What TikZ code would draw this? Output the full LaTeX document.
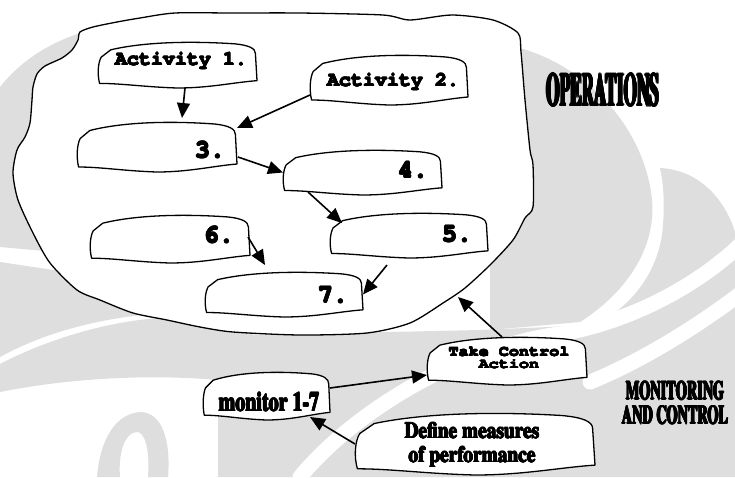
\documentclass[tikz,border=0pt]{standalone}
\usepackage{fontspec}
\usetikzlibrary{arrows.meta,calc}
% typewriter face for the boxes, bold roman for the free labels
\IfFontExistsTF{texgyrecursor-bold.otf}
  {\newfontfamily\boxfont{texgyrecursor-bold.otf}}
  {\newfontfamily\boxfont{lmmonolt10-bold.otf}}
\IfFontExistsTF{texgyretermes-bold.otf}
  {\newfontfamily\condfont{texgyretermes-bold.otf}}
  {\newfontfamily\condfont{lmroman10-bold.otf}}
\definecolor{wmark}{gray}{0.87}
% extra weight: the text is set over copies of itself shifted by #1
\newcommand\heavy[2]{{\setbox0=\hbox{#2}\dimen0=#1\relax\dimen2=0.7\dimen0
  \rlap{\kern\dimen0\copy0}\rlap{\kern-\dimen0\copy0}%
  \rlap{\raise\dimen0\copy0}\rlap{\lower\dimen0\copy0}%
  \rlap{\kern\dimen2\raise\dimen2\copy0}\rlap{\kern-\dimen2\raise\dimen2\copy0}%
  \rlap{\kern\dimen2\lower\dimen2\copy0}\rlap{\kern-\dimen2\lower\dimen2\copy0}%
  \box0}}
\tikzset{
  boxnode/.style={inner sep=0pt, outer sep=0pt, draw=none},
  boxline/.style={draw=black, line width=1.3pt, fill=white, line join=round},
  flow/.style={draw=black, line width=1.6pt, -{Triangle[length=15pt,width=13pt]}},
  numtext/.style={inner sep=0pt, font=\boxfont\fontsize{25}{25}\selectfont},
  acttext/.style={inner sep=0pt, font=\boxfont\fontsize{20}{20}\selectfont},
  condtext/.style={inner sep=0pt, align=center},
  wmband/.style={draw=white, line width=15pt, line cap=round}
}
% hand-drawn rounded box around a named node
\newcommand\wobbly[1]{%
  \path[boxline] let \p1=(#1.north west), \p2=(#1.south east),
      \n1={\x2-\x1}, \n2={\y1-\y2} in
    ({\x1+0.08*\n1},{\y1-0.17*\n2})
    .. controls ({\x1+0.3*\n1},{\y1+0.01*\n2}) and ({\x1+0.6*\n1},{\y1+0.02*\n2}) .. ({\x1+0.86*\n1},{\y1-0.04*\n2})
    .. controls ({\x1+0.95*\n1},{\y1-0.07*\n2}) and ({\x1+0.99*\n1},{\y1-0.14*\n2}) .. ({\x1+0.99*\n1},{\y1-0.25*\n2})
    -- ({\x2},{\y1-0.84*\n2})
    .. controls ({\x1+0.85*\n1},{\y1-0.88*\n2}) and ({\x1+0.7*\n1},{\y1-1.0*\n2}) .. ({\x1+0.5*\n1},{\y2})
    .. controls ({\x1+0.3*\n1},{\y1-0.98*\n2}) and ({\x1+0.15*\n1},{\y1-0.9*\n2}) .. ({\x1+0.01*\n1},{\y1-0.9*\n2})
    .. controls ({\x1-0.005*\n1},{\y1-0.7*\n2}) and ({\x1},{\y1-0.45*\n2}) .. ({\x1+0.02*\n1},{\y1-0.33*\n2})
    -- cycle;
}
\begin{document}
\begin{tikzpicture}[x=1pt,y=-1pt]
\useasboundingbox (0,0) rectangle (735,477);
\fill[white] (0,0) rectangle (735,477);

% pale emblem in the background
\fill[wmark] (0,87) .. controls (20,62) and (48,42) .. (90,30) -- (200,30) -- (200,265) -- (0,247) -- cycle;
\fill[wmark] (0,262) -- (120,280) -- (150,314) .. controls (90,320) and (40,335) .. (0,357) -- cycle;
\fill[wmark] (0,364) .. controls (40,343) and (100,322) .. (160,318) -- (233,330) -- (255,335)
   -- (255,477) -- (218,477) -- (218,380) .. controls (150,374) and (70,378) .. (0,392) -- cycle;
\fill[wmark] (97,477) .. controls (100,440) and (115,414) .. (140,412) .. controls (162,412) and (171,440) .. (168,477)
   -- (148,477) .. controls (150,450) and (145,432) .. (137,432) .. controls (126,432) and (118,450) .. (120,477) -- cycle;
\fill[wmark] (520,48) .. controls (590,68) and (645,130) .. (652,200) .. controls (656,245) and (630,290) .. (580,322)
   -- (490,330) -- (490,48) -- cycle;
\fill[wmark] (660,168) .. controls (700,170) and (725,200) .. (735,232) -- (735,477) -- (255,477) -- (255,335)
   -- (480,330) -- (595,325) .. controls (625,310) and (655,280) .. (662,235) .. controls (665,210) and (664,185) .. (660,168) -- cycle;
\draw[wmband] (300,477) .. controls (360,405) and (470,345) .. (560,334) .. controls (630,322) and (700,285) .. (745,240);
\draw[wmband] (590,382) .. controls (640,362) and (700,325) .. (745,290);

% operations area
\coordinate (opsedge) at (458,297);
\path[draw=black, line width=1.3pt, fill=white] plot[smooth cycle, tension=0.45] coordinates {
  (80,32) (93,27) (117,22) (140,18) (175,13) (233,13) (300,13) (383,15) (410,20) (452,15)
  (493,20) (518,33) (521,52) (525,100) (530,150) (533,165) (533,207) (525,218) (513,240)
  (490,265) (465,288) (443,303) (410,323) (367,333) (300,335) (233,332) (200,327) (167,320)
  (133,313) (100,300) (77,290) (50,263) (33,233) (18,200) (13,173) (17,150) (25,137) (30,123)
  (32,100) (33,87) (37,74) (45,66) (62,58) (72,50) (78,40)};

% boxes
\node[boxnode, minimum width=159pt, minimum height=46pt] (a1) at (177.5,65) {};
\node[boxnode, minimum width=158pt, minimum height=50pt] (a2) at (389,80) {};
\node[boxnode, minimum width=160pt, minimum height=50pt] (b3) at (157,147) {};
\node[boxnode, minimum width=159pt, minimum height=45pt] (b4) at (362.5,172.5) {};
\node[boxnode, minimum width=158pt, minimum height=45pt] (b5) at (409,235.5) {};
\node[boxnode, minimum width=160pt, minimum height=48pt] (b6) at (170,239) {};
\node[boxnode, minimum width=158pt, minimum height=45pt] (b7) at (284,294.5) {};
\node[boxnode, minimum width=160pt, minimum height=48pt] (tc) at (507,361) {};
\node[boxnode, minimum width=127pt, minimum height=48pt] (mon) at (266.5,396) {};
\node[boxnode, minimum width=240pt, minimum height=62pt] (def) at (475,444) {};
\foreach \b in {a1,a2,b3,b4,b5,b6,b7,tc,mon,def} {\wobbly{\b}}

% labels
\node[acttext] (a1t) at (181,61) {\heavy{0.5pt}{Activity 1.}};
\node[acttext] (a2t) at (393,82) {\heavy{0.5pt}{Activity 2.}};
\node[numtext] (b3t) at (210,150) {\heavy{0.8pt}{3.}};
\node[numtext] (b4t) at (413,170) {\heavy{0.8pt}{4.}};
\node[numtext] (b5t) at (457,234) {\heavy{0.8pt}{5.}};
\node[numtext] (b6t) at (219,235) {\heavy{0.8pt}{6.}};
\node[numtext] (b7t) at (333,295) {\heavy{0.8pt}{7.}};
\node[inner sep=0pt, align=center, font=\boxfont\fontsize{14}{12.5}\selectfont] (tct) at (509,358)
  {\heavy{0.35pt}{\scalebox{1.2}[1]{Take Control}}\\\heavy{0.35pt}{\scalebox{1.2}[1]{Action}}};
\node[condtext, font=\condfont\fontsize{27}{27}\selectfont] (mont) at (269,402)
  {\heavy{0.55pt}{\scalebox{0.74}[1]{monitor 1-7}}};
\node[condtext, font=\condfont\fontsize{22.5}{24}\selectfont] (deft) at (472,445)
  {\heavy{0.5pt}{\scalebox{0.86}[1]{Define measures}}\\\heavy{0.5pt}{\scalebox{0.86}[1]{of performance}}};
\node[condtext, font=\condfont\fontsize{46.5}{46.5}\selectfont] (ops) at (603,90)
  {\heavy{0.9pt}{\scalebox{0.37}[1]{OPERATIONS}}};
\node[condtext, font=\condfont\fontsize{26}{24.5}\selectfont] (mc) at (675,403)
  {\heavy{0.6pt}{\scalebox{0.55}[1]{MONITORING}}\\\heavy{0.6pt}{\scalebox{0.55}[1]{AND CONTROL}}};

% connectors
\draw[flow] ([xshift=7.5pt]a1.south) -- ([xshift=25pt,yshift=4pt]b3.north);
\draw[flow] ([yshift=-15pt]a2.west) -- ([yshift=-6pt]b3.north east);
\draw[flow] ([xshift=1pt,yshift=-10pt]b3.east) -- (b4.west);
\draw[flow] ([xshift=25pt,yshift=3pt]b4.south west) -- ([xshift=12pt,yshift=-10pt]b5.north west);
\draw[flow] ([xshift=-2pt,yshift=2pt]b6.east) -- ([xshift=-19pt,yshift=7pt]b7.north);
\draw[flow] ([xshift=-22pt,yshift=-7pt]b5.south) -- (b7.east);
\draw[flow] ([xshift=-5pt]tc.north) -- (opsedge);
\draw[flow] ([yshift=8pt]mon.east) -- ([yshift=-14pt]tc.west);
\draw[flow] (def.west) -- ([xshift=-20pt,yshift=3pt]mon.south east);
\end{tikzpicture}
\end{document}
